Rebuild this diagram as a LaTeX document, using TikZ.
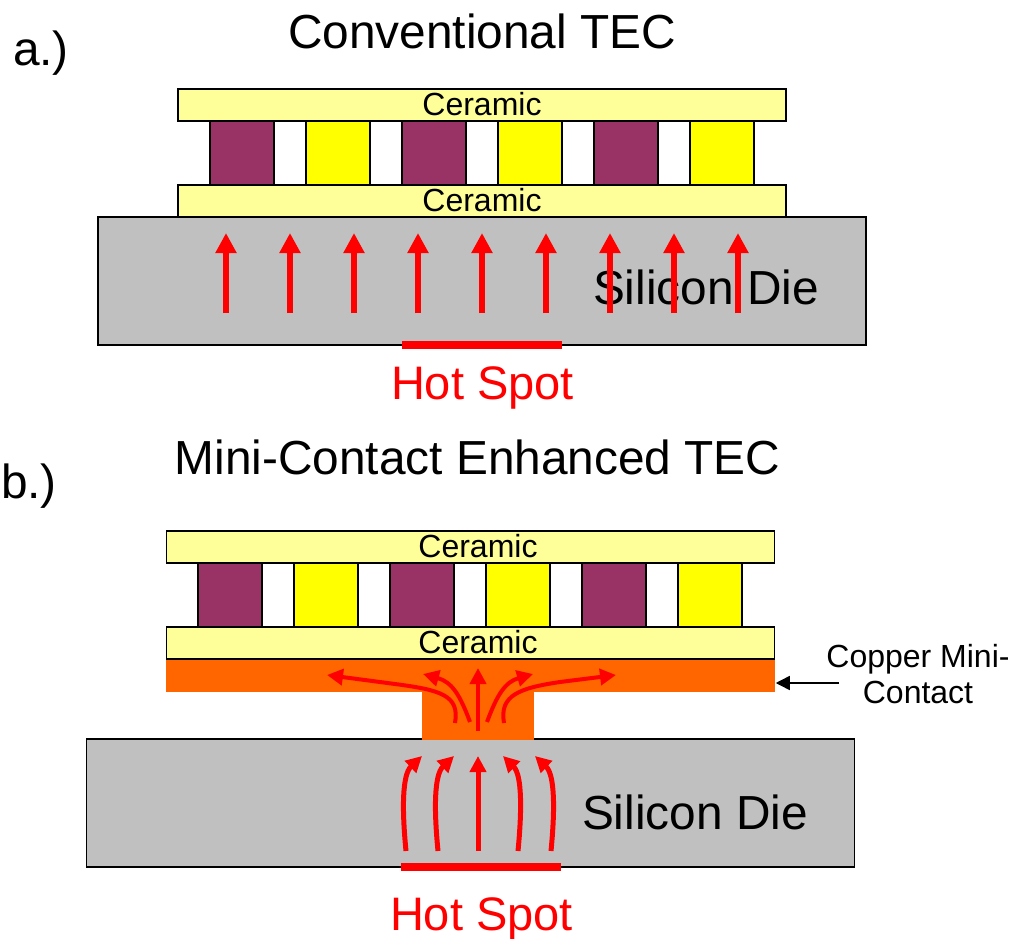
\documentclass[tikz,border=0pt]{standalone}
\usepackage{fontspec}
\setmainfont{Liberation Sans}
\usetikzlibrary{arrows.meta}
\definecolor{ceramic-yellow}{HTML}{FFFF99}
\definecolor{leg-purple}{HTML}{993366}
\definecolor{leg-yellow}{HTML}{FFFF00}
\definecolor{die-gray}{HTML}{C0C0C0}
\definecolor{copper-orange}{HTML}{FF6600}
\tikzset{
    big-text/.style = {font=\fontsize{47.8}{52}\selectfont, inner sep=0pt},
    hot-text/.style = {inner sep=0pt, font=\fontsize{47}{52}\selectfont, text=red},
    small-text/.style = {font=\fontsize{32}{36}\selectfont, inner sep=0pt, align=center},
    plain-box/.style = {rectangle, inner sep=0pt, line width=1.5pt},
    ceramic-box/.style = {plain-box, draw=black, fill=ceramic-yellow, minimum width=608pt, minimum height=32pt},
    leg-box/.style = {plain-box, draw=black, minimum width=64pt, minimum height=64pt},
    die-box/.style = {plain-box, draw=black, fill=die-gray, minimum width=768pt, minimum height=128pt},
    copper-box/.style = {plain-box, fill=copper-orange},
    hot-bar/.style = {red, line width=8pt},
    heat-arrow/.style = {red, line width=6.5pt, -{Triangle[width=20pt,length=20pt]}},
    flow-arrow/.style = {red, line width=5pt, -{Triangle[width=16pt,length=16pt]}},
    spread-arrow/.style = {red, line width=4pt, -{Triangle[width=16pt,length=16pt]}},
}

\begin{document}
\begin{tikzpicture}[x=1pt,y=-1pt]
\useasboundingbox (0,0) rectangle (1013,939);

% a.) conventional
\node [big-text] (label-a) at (41,53) {a.)};
\node [big-text] (title-a) at (482,31) {Conventional TEC};
\node [die-box] (die-a) at (482,281) {};
\node [big-text] (die-text-a) at (706,287) {Silicon Die};
\foreach \i/\x/\c in {1/242/leg-purple, 2/338/leg-yellow, 3/434/leg-purple, 4/530/leg-yellow, 5/626/leg-purple, 6/722/leg-yellow}
    \node [leg-box, fill=\c] (leg-a-\i) at (\x,153) {};
\node [ceramic-box] (top-a) at (482,105) {};
\node [ceramic-box] (bottom-a) at (482,201) {};
\node [small-text] (top-text-a) at (482,104) {Ceramic};
\node [small-text] (bottom-text-a) at (482,200) {Ceramic};
\coordinate (hot-a-l) at (402,345);
\coordinate (hot-a-r) at (562,345);
\draw [hot-bar] (hot-a-l) -- (hot-a-r);
\node [hot-text] (hot-text-a) at (482.5,388) {Hot Spot};
\foreach \i/\x in {1/226, 2/290, 3/354, 4/418, 5/482, 6/546, 7/610, 8/674, 9/738} {
    \coordinate (from-a-\i) at (\x,313);
    \coordinate (to-a-\i) at (\x,233);
    \draw [heat-arrow] (from-a-\i) -- (to-a-\i);
}

% b.) mini-contact
\node [big-text] (label-b) at (29,486) {b.)};
\node [big-text] (title-b) at (477.5,457) {Mini-Contact Enhanced TEC};
\node [die-box] (die-b) at (470.5,803) {};
\node [big-text] (die-text-b) at (695,812) {Silicon Die};
\foreach \i/\x/\c in {1/230/leg-purple, 2/326/leg-yellow, 3/422/leg-purple, 4/518/leg-yellow, 5/614/leg-purple, 6/710/leg-yellow}
    \node [leg-box, fill=\c] (leg-b-\i) at (\x,595) {};
\node [ceramic-box] (top-b) at (470.5,547) {};
\node [ceramic-box] (bottom-b) at (470.5,643) {};
\node [small-text] (top-text-b) at (478,546) {Ceramic};
\node [small-text] (bottom-text-b) at (478,642) {Ceramic};
\node [copper-box, minimum width=609pt, minimum height=32pt] (plate-b) at (470.5,676) {};
\node [copper-box, minimum width=112pt, minimum height=48pt] (stem-b) at (478,715.5) {};
\coordinate (hot-b-l) at (401,867);
\coordinate (hot-b-r) at (561,867);
\draw [hot-bar] (hot-b-l) -- (hot-b-r);
\node [hot-text] (hot-text-b) at (481.5,919) {Hot Spot};

% flow through the die
\coordinate (up-1) at (406,851);
\coordinate (up-2) at (438,851);
\coordinate (up-3) at (478,851);
\coordinate (up-4) at (518,851);
\coordinate (up-5) at (551,851);
\coordinate (tip-1) at (422,756);
\coordinate (tip-2) at (454,756);
\coordinate (tip-3) at (478,756);
\coordinate (tip-4) at (503,756);
\coordinate (tip-5) at (535,756);
\draw [flow-arrow] (up-1) .. controls (402,810) and (402,775) .. (tip-1);
\draw [flow-arrow] (up-2) .. controls (434,810) and (434,775) .. (tip-2);
\draw [flow-arrow] (up-3) -- (tip-3);
\draw [flow-arrow] (up-4) .. controls (522,810) and (522,775) .. (tip-4);
\draw [flow-arrow] (up-5) .. controls (555,810) and (555,775) .. (tip-5);

% flow through the copper
\coordinate (in-1) at (455,723);
\coordinate (in-2) at (470,722);
\coordinate (in-3) at (478,731);
\coordinate (in-4) at (487,722);
\coordinate (in-5) at (504,723);
\coordinate (out-1) at (327,675);
\coordinate (out-2) at (423,674);
\coordinate (out-3) at (478,668);
\coordinate (out-4) at (533,674);
\coordinate (out-5) at (616,675);
\draw [spread-arrow] (in-1) .. controls (460,695) and (440,690) .. (395,684) -- (out-1);
\draw [spread-arrow] (in-2) .. controls (460,695) and (452,682) .. (out-2);
\draw [spread-arrow] (in-3) -- (out-3);
\draw [spread-arrow] (in-4) .. controls (497,695) and (505,682) .. (out-4);
\draw [spread-arrow] (in-5) .. controls (499,695) and (520,688) .. (560,682) -- (out-5);

% callout
\node [small-text] (copper-text) at (918,674) {Copper Mini-\\Contact};
\coordinate (callout-from) at (839,683);
\draw [-{Triangle[width=14pt,length=14pt]}, line width=1.5pt] (callout-from) -- (plate-b.east |- callout-from);
\end{tikzpicture}
\end{document}
